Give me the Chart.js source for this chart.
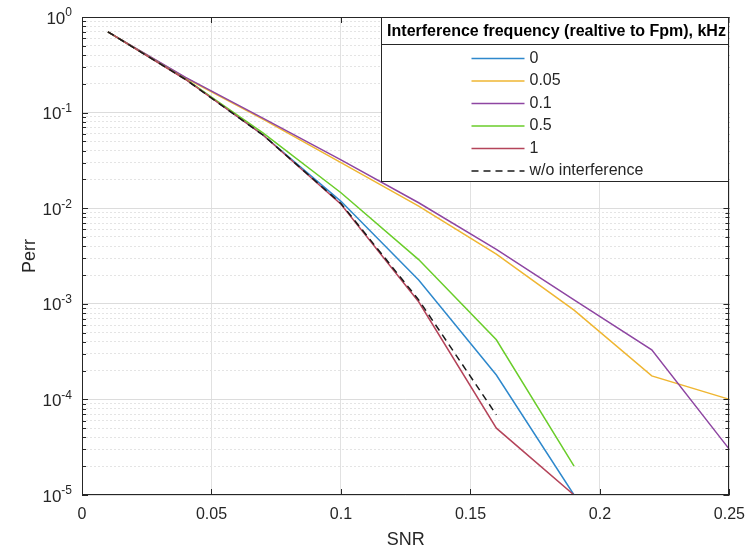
<!DOCTYPE html>
<html>
<head>
<meta charset="utf-8">
<script src="https://cdn.jsdelivr.net/npm/chart.js"></script>
<style>
    html, body { margin: 0; padding: 0; background: #fff; }
    #wrap { width: 755px; height: 553px; position: relative; }
</style>
</head>
<body>
<div id="wrap"><canvas id="myChart"></canvas></div>
<script>
    // SNR points (x axis)
    var snr = [0.01, 0.04, 0.07, 0.1, 0.13, 0.16, 0.19, 0.22, 0.25];

    // Perr per interference frequency
    var perr0    = [0.70, 0.225, 0.058, 0.0118, 0.00177, 0.00018, 0.00001];
    var perr005  = [0.70, 0.23, 0.085, 0.030, 0.0105, 0.0033, 0.00086, 0.000176, 0.0001];
    var perr01   = [0.70, 0.234, 0.087, 0.032, 0.0114, 0.0037, 0.0011, 0.00033, 0.00003];
    var perr05   = [0.70, 0.224, 0.061, 0.0145, 0.0029, 0.00042, 0.00002];
    var perr1    = [0.70, 0.222, 0.058, 0.011, 0.00105, 0.00005, 0.00001];
    var perrNone = [0.70, 0.222, 0.058, 0.0112, 0.0011, 0.000069];

    var legendTitle = 'Interference frequency (realtive to Fpm), kHz';
    var seriesLabels = ['0', '0.05', '0.1', '0.5', '1', 'w/o interference'];
    var seriesValues = [perr0, perr005, perr01, perr05, perr1, perrNone];
    var seriesColors = ['#2e88cc', '#efb632', '#8e46a2', '#6acd2a', '#b4445a', '#1a1a1a'];

    var xTicks = [0, 0.05, 0.1, 0.15, 0.2, 0.25];
    var yDecades = [-5, -4, -3, -2, -1, 0];

    var FONT = '"Liberation Sans", Arial, Helvetica, sans-serif';

    function toPoints(vals) {
        return vals.map(function (v, i) { return { x: snr[i], y: v }; });
    }

    var datasets = seriesValues.map(function (vals, i) {
        return {
            label: seriesLabels[i],
            data: toPoints(vals),
            borderColor: seriesColors[i],
            borderWidth: 1.5,
            borderDash: i === 5 ? [7, 5] : [],
            pointRadius: 0,
            fill: false,
            tension: 0,
            order: 6 - i
        };
    });

    // MATLAB style box, inward ticks, y labels with exponents, legend
    var matlabAxes = {
        id: 'matlabAxes',
        afterDatasetsDraw: function (chart) {
            var ctx = chart.ctx, a = chart.chartArea;
            var xs = chart.scales.x, ys = chart.scales.y;
            ctx.save();
            ctx.strokeStyle = '#262626';
            ctx.lineWidth = 1;
            ctx.setLineDash([]);
            ctx.beginPath();
            xs.ticks.forEach(function (t) {
                var px = Math.round(xs.getPixelForValue(t.value)) + 0.5;
                ctx.moveTo(px, a.bottom); ctx.lineTo(px, a.bottom - 6);
                ctx.moveTo(px, a.top); ctx.lineTo(px, a.top + 6);
            });
            ys.ticks.forEach(function (t) {
                var py = Math.round(ys.getPixelForValue(t.value)) + 0.5;
                var len = t.dec ? 6 : 4;
                ctx.moveTo(a.left, py); ctx.lineTo(a.left + len, py);
                ctx.moveTo(a.right, py); ctx.lineTo(a.right - len, py);
            });
            ctx.stroke();
            ctx.strokeRect(Math.round(a.left) + 0.5, Math.round(a.top) + 0.5,
                Math.round(a.width) - 1, Math.round(a.height) - 1);

            // y tick labels 10^n
            ctx.fillStyle = '#262626';
            ctx.textBaseline = 'middle';
            ctx.textAlign = 'right';
            yDecades.forEach(function (e) {
                var py = ys.getPixelForValue(Math.pow(10, e));
                var exp = e === 0 ? '0' : '-' + (-e);
                ctx.font = '12px ' + FONT;
                var ew = ctx.measureText(exp).width;
                ctx.fillText(exp, a.left - 10, py - 4);
                ctx.font = '17px ' + FONT;
                ctx.fillText('10', a.left - 10 - ew, py + 2);
            });

            // legend
            var lw = 348, lh = 164;
            var lx = Math.round(a.right) - lw + 0.5, ly = Math.round(a.top) + 0.5;
            ctx.fillStyle = '#fff';
            ctx.fillRect(lx, ly, lw, lh);
            ctx.strokeStyle = '#262626';
            ctx.strokeRect(lx, ly, lw - 1, lh);
            ctx.beginPath();
            ctx.moveTo(lx, ly + 27); ctx.lineTo(lx + lw - 1, ly + 27);
            ctx.stroke();
            ctx.fillStyle = '#000';
            ctx.textAlign = 'center';
            ctx.font = 'bold 16px ' + FONT;
            ctx.fillText(legendTitle, lx + lw / 2 + 1, ly + 14);
            ctx.textAlign = 'left';
            ctx.font = '16px ' + FONT;
            chart.data.datasets.forEach(function (ds, i) {
                var ry = ly + 41 + i * 22.5;
                ctx.strokeStyle = ds.borderColor;
                ctx.lineWidth = 1.5;
                ctx.setLineDash(ds.borderDash);
                ctx.beginPath();
                ctx.moveTo(lx + 90, ry); ctx.lineTo(lx + 143, ry);
                ctx.stroke();
                ctx.fillStyle = '#262626';
                ctx.fillText(ds.label, lx + 148, ry);
            });
            ctx.restore();
        }
    };

    var ctx = document.getElementById('myChart').getContext('2d');
    window.myChart = new Chart(ctx, {
        type: 'line',
        data: { datasets: datasets },
        plugins: [matlabAxes],
        options: {
            responsive: true,
            maintainAspectRatio: false,
            animation: false,
            layout: { padding: { left: 0, top: 17, right: 24, bottom: 0 } },
            plugins: { legend: { display: false }, tooltip: { enabled: false } },
            scales: {
                x: {
                    type: 'linear',
                    min: 0,
                    max: 0.25,
                    afterBuildTicks: function (scale) {
                        scale.ticks = xTicks.map(function (v) { return { value: v }; });
                    },
                    afterFit: function (scale) { scale.height = 58; },
                    grid: { color: '#e1e1e1', drawTicks: false },
                    border: { display: false },
                    ticks: {
                        padding: 10,
                        color: '#262626',
                        font: { family: FONT, size: 16 },
                        callback: function (v) { return String(Math.round(v * 100) / 100); }
                    },
                    title: {
                        display: true,
                        text: 'SNR',
                        color: '#262626',
                        padding: { top: 0, bottom: 2 },
                        font: { family: FONT, size: 18 }
                    }
                },
                y: {
                    type: 'logarithmic',
                    min: 1e-5,
                    max: 1,
                    afterBuildTicks: function (scale) {
                        var t = [];
                        yDecades.forEach(function (e) {
                            for (var m = 1; m <= 9; m++) {
                                if (e === 0 && m > 1) break;
                                t.push({ value: m * Math.pow(10, e), dec: m === 1 });
                            }
                        });
                        scale.ticks = t;
                    },
                    afterFit: function (scale) { scale.width = 82; },
                    grid: {
                        drawTicks: false,
                        color: function (c) { return c.tick && c.tick.dec ? '#dcdcdc' : '#e4e4e4'; },
                        lineWidth: 1
                    },
                    border: {
                        display: false,
                        dash: function (c) { return c.tick && c.tick.dec ? [] : [2, 2]; }
                    },
                    ticks: { display: false, autoSkip: false },
                    title: {
                        display: true,
                        text: 'Perr',
                        color: '#262626',
                        padding: { top: 19, bottom: 0 },
                        font: { family: FONT, size: 18 }
                    }
                }
            }
        }
    });
</script>
</body>
</html>
